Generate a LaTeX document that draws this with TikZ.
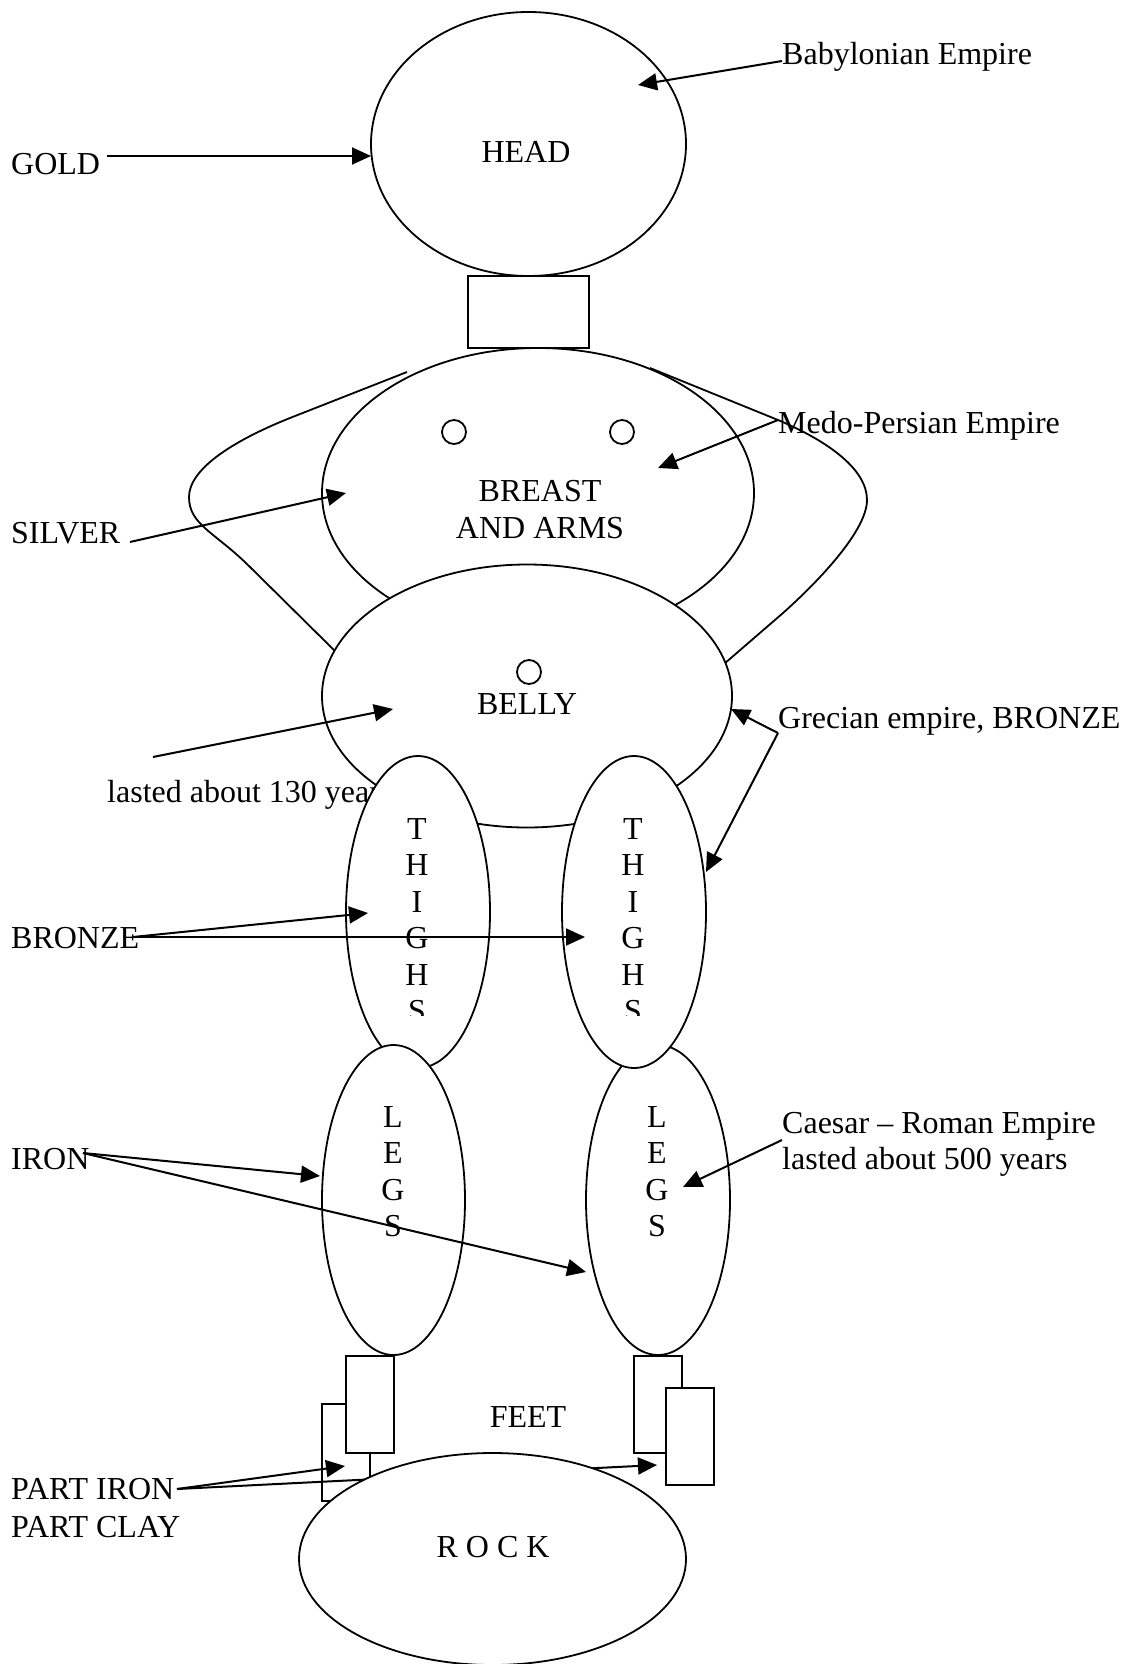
\documentclass[tikz,border=0pt]{standalone}
\usepackage{fontspec}
\setmainfont{Liberation Serif}
\usetikzlibrary{shapes.geometric,arrows.meta}
\tikzset{
  body/.style={draw, line width=1.8pt, fill=white, inner sep=0pt, outer sep=0pt},
  oval/.style={body, ellipse},
  dot/.style={draw, line width=1.8pt, circle, minimum size=24pt, inner sep=0pt},
  outline/.style={line width=1.8pt},
  arr/.style={line width=2pt, -{Triangle[length=19pt,width=17pt]}},
  lbl/.style={inner sep=0pt, anchor=base west},
  ctr/.style={inner sep=0pt, anchor=base},
}
\begin{document}
\begin{tikzpicture}[x=1pt,y=-1pt,font=\fontsize{32}{36.5}\selectfont]
\useasboundingbox[fill=white] (0,0) rectangle (1124,1664);

% head and neck
\node[oval, minimum width=315pt, minimum height=264pt] (head) at (528.5,144) {};
\node[ctr] (headtxt) at (526,163) {HEAD};
\node[body, minimum width=121pt, minimum height=72pt] (neck) at (528.5,312) {};

% arms
\draw[outline] (407,372) -- (290,418) .. controls (230,442) and (189,470) .. (189,497)
  .. controls (189,525) and (215,532) .. (250,567) -- (338,654);
\draw[outline] (650,368) -- (778,420) .. controls (830,442) and (867,470) .. (867,500)
  .. controls (867,530) and (820,580) .. (783,613) -- (724,664);

% breast
\node[oval, minimum width=432pt, minimum height=290pt] (breast) at (538,493) {};
\node[dot] (nipL) at (454,432) {};
\node[dot] (nipR) at (622,432) {};
\node[ctr] (breasttxt) at (540,501) {BREAST};
\node[ctr] (armstxt) at (540,538) {AND ARMS};

% belly
\node[oval, minimum width=410pt, minimum height=263pt] (belly) at (527,696) {};
\node[dot, minimum height=23pt] (navel) at (529,672) {};
\node[ctr] (bellytxt) at (527,714) {BELLY};
\node[lbl] (lasted) at (107,802) {lasted about 130 years};

% thighs and legs
\node[oval, minimum width=144pt, minimum height=312pt] (thighL) at (418,912) {};
\node[oval, minimum width=143pt, minimum height=310pt] (legL) at (393.5,1200) {};
\node[oval, minimum width=144pt, minimum height=310pt] (legR) at (658,1200) {};
\node[oval, minimum width=144pt, minimum height=312pt] (thighR) at (634,912) {};

\begin{scope}
  \clip (340,800) rectangle (720,1015);
  \foreach \ch/\yy [count=\i] in {T/839,H/875.5,I/912,G/948.5,H/985,S/1021.5}{
    \node[ctr] (thL\i) at (417,\yy) {\ch};
    \node[ctr] (thR\i) at (633,\yy) {\ch};
  }
\end{scope}
\foreach \ch/\yy [count=\i] in {L/1127,E/1163.5,G/1200,S/1236.5}{
  \node[ctr] (lgL\i) at (393,\yy) {\ch};
  \node[ctr] (lgR\i) at (657,\yy) {\ch};
}

% feet
\node[body, minimum width=48pt, minimum height=97pt] (footLb) at (346,1452.5) {};
\node[body, minimum width=48pt, minimum height=97pt] (footLa) at (370,1404.5) {};
\node[body, minimum width=48pt, minimum height=97pt] (footRc) at (658,1404.5) {};
\node[body, minimum width=48pt, minimum height=97pt] (footRd) at (690,1436.5) {};

% labels
\node[lbl] (gold) at (11,175) {GOLD};
\node[lbl] (babylon) at (782,65) {Babylonian Empire};
\node[lbl] (medo) at (778,433) {Medo-Persian Empire};
\node[lbl] (silver) at (11,543) {SILVER};
\node[lbl] (grecian) at (778,728) {Grecian empire, BRONZE};
\node[lbl] (bronze) at (11,948) {BRONZE};
\node[lbl] (iron) at (11,1169) {IRON};
\node[lbl] (caesar1) at (782,1133) {Caesar – Roman Empire};
\node[lbl] (caesar2) at (782,1169) {lasted about 500 years};
\node[lbl] (partiron) at (11,1499) {PART IRON};
\node[lbl] (partclay) at (11,1537) {PART CLAY};

% connector end points
\coordinate (goldS) at (107,156);     \coordinate (goldT) at (371,156);
\coordinate (babS) at (782,61);       \coordinate (babT) at (638,85);
\coordinate (medoS) at (778,420);     \coordinate (medoT) at (658,468);
\coordinate (silS) at (130,542);      \coordinate (silT) at (346,493);
\coordinate (lastS) at (153,757);     \coordinate (lastT) at (393,709);
\coordinate (grecS) at (778,733);     \coordinate (grecT1) at (731,709);
\coordinate (grecT2) at (706,872);
\coordinate (brzS) at (133,937);      \coordinate (brzT1) at (368,913);
\coordinate (brzT2) at (585,937);
\coordinate (ironS) at (83,1153);     \coordinate (ironT1) at (320,1176);
\coordinate (ironT2) at (586,1272);
\coordinate (caesS) at (782,1140);    \coordinate (caesT) at (683,1187);
\coordinate (piS) at (177,1489);      \coordinate (piT1) at (345,1466);
\coordinate (piT2) at (657,1465);

\draw[arr] (goldS) -- (goldT);
\draw[arr] (babS) -- (babT);
\draw[arr] (medoS) -- (medoT);
\draw[arr] (silS) -- (silT);
\draw[arr] (lastS) -- (lastT);
\draw[arr] (grecS) -- (grecT1);
\draw[arr] (grecS) -- (grecT2);
\draw[arr] (brzS) -- (brzT1);
\draw[arr] (brzS) -- (brzT2);
\draw[arr] (ironS) -- (ironT1);
\draw[arr] (ironS) -- (ironT2);
\draw[arr] (caesS) -- (caesT);
\draw[arr] (piS) -- (piT1);
\draw[arr] (piS) -- (piT2);

% rock
\node[oval, minimum width=387pt, minimum height=212pt] (rock) at (492.5,1559) {};
\node[ctr] (rocktxt) at (493,1557) {R O C K};
\node[ctr] (feet) at (528,1427) {FEET};
\end{tikzpicture}
\end{document}
